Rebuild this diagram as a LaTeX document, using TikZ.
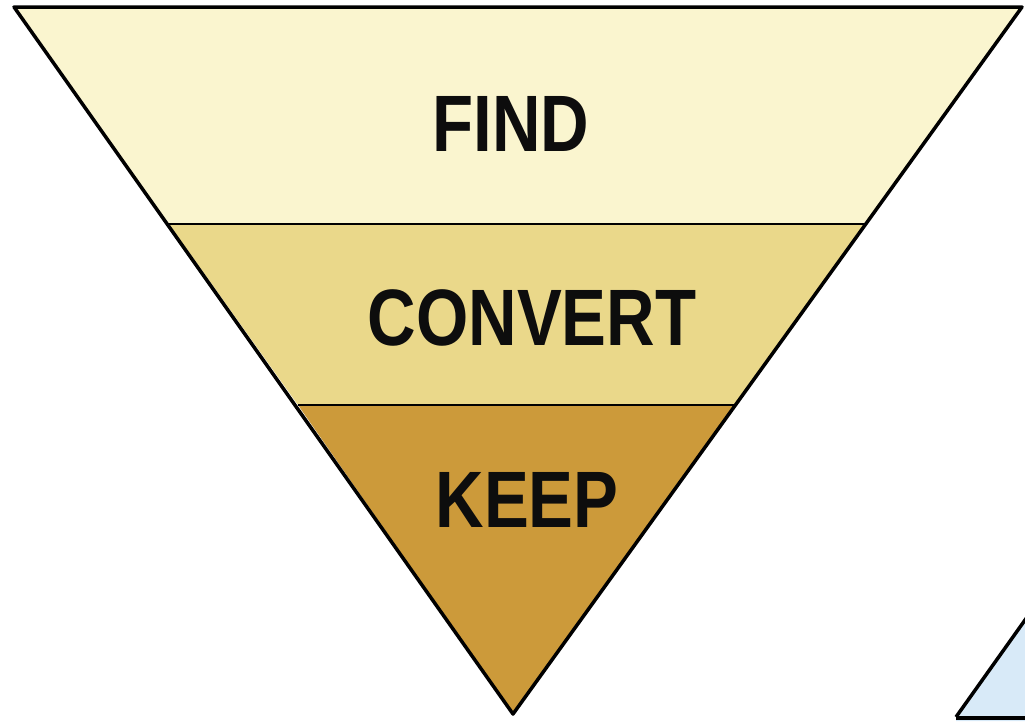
\documentclass[tikz,border=0pt]{standalone}
\usepackage{fontspec}
\setmainfont{Liberation Sans}
\begin{document}
\begin{tikzpicture}[x=1pt,y=-1pt,
  band/.style={line width=3.5pt,line join=round},
  lbl/.style={font=\bfseries\fontsize{80}{80}\selectfont,text=black!95,xscale=0.84,inner sep=0pt}]
\useasboundingbox (0,0) rectangle (1025,721);
\fill[white] (0,0) rectangle (1025,721);
% blue shape bottom right
\fill[fill={rgb,255:red,216;green,234;blue,248}] (956,717) -- (1030,613) -- (1030,721) -- (956,721) -- cycle;
\draw[line width=3.5pt] (956,717) -- (1030,613);
\draw[line width=3.5pt] (956,718) -- (1025,718);
% bands
\coordinate (TL) at (14,7);
\coordinate (TR) at (1022,7);
\coordinate (A) at (513,714);
\coordinate (L1) at (169,224);
\coordinate (R1) at (866,224);
\coordinate (L2) at (298,405);
\coordinate (R2) at (736,405);
\fill[fill={rgb,255:red,250;green,245;blue,207}] (TL) -- (TR) -- (R1) -- (L1) -- cycle;
\fill[fill={rgb,255:red,234;green,216;blue,138}] (L1) -- (R1) -- (R2) -- (L2) -- cycle;
\fill[fill={rgb,255:red,204;green,154;blue,58}] (L2) -- (R2) -- (A) -- cycle;
\draw[line width=2.8pt] (L1) -- (R1);
\draw[line width=2.8pt] (L2) -- (R2);
\draw[band] (TL) -- (TR) -- (A) -- cycle;
\node[lbl] (find) at (511,124) {FIND};
\node[lbl] (convert) at (532,318) {CONVERT};
\node[lbl] (keep) at (527,500) {KEEP};
\end{tikzpicture}
\end{document}
